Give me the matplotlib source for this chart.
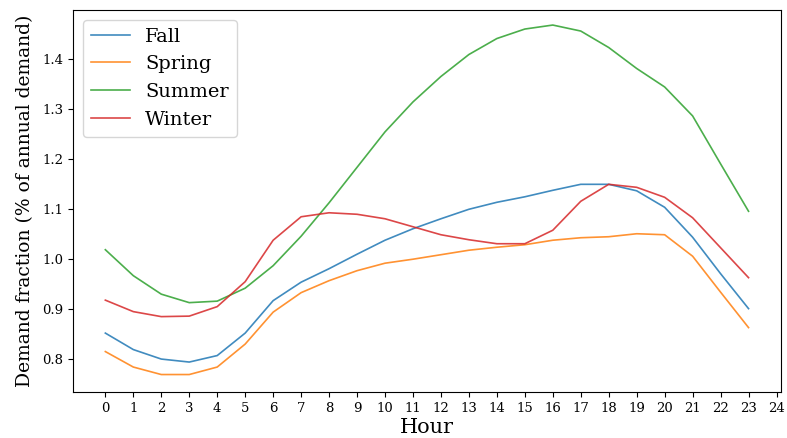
import numpy as np
import matplotlib
matplotlib.use('Agg')
import matplotlib.pyplot as plt

plt.rcParams['font.family'] = 'DejaVu Serif'

hours = list(range(24))
fall = [0.851, 0.818, 0.799, 0.793, 0.806, 0.851, 0.916, 0.953, 0.980, 1.009,
        1.037, 1.060, 1.080, 1.099, 1.113, 1.124, 1.137, 1.149, 1.149, 1.136,
        1.103, 1.043, 0.970, 0.900]
spring = [0.814, 0.783, 0.768, 0.768, 0.783, 0.829, 0.893, 0.932, 0.956, 0.976,
          0.991, 0.999, 1.008, 1.017, 1.023, 1.028, 1.037, 1.042, 1.044, 1.050,
          1.048, 1.005, 0.933, 0.862]
summer = [1.018, 0.966, 0.929, 0.912, 0.915, 0.941, 0.986, 1.045, 1.112, 1.183,
          1.254, 1.314, 1.365, 1.409, 1.441, 1.460, 1.468, 1.456, 1.423, 1.381,
          1.344, 1.286, 1.190, 1.095]
winter = [0.917, 0.894, 0.884, 0.885, 0.904, 0.954, 1.037, 1.084, 1.092, 1.089,
          1.080, 1.064, 1.048, 1.038, 1.030, 1.030, 1.057, 1.115, 1.149, 1.143,
          1.123, 1.082, 1.022, 0.962]
seasons = ['Fall', 'Spring', 'Summer', 'Winter']
colors = ['tab:blue', 'tab:orange', 'tab:green', 'tab:red']

fig, ax = plt.subplots(figsize=(7.87, 4.38), dpi=100)
fig.subplots_adjust(left=0.093, right=0.992, bottom=0.105, top=0.977)

for name, vals, c in zip(seasons, [fall, spring, summer, winter], colors):
    ax.plot(hours, vals, color=c, lw=1.2, alpha=0.85, label=name)

ax.set_xticks(range(25))
ax.set_ylim(0.733, 1.498)
ax.tick_params(labelsize=9.5)
ax.set_xlabel('Hour', fontsize=15, labelpad=2)
ax.set_ylabel('Demand fraction (% of annual demand)', fontsize=13.5, labelpad=6)
ax.legend(loc='upper left', fontsize=14)

plt.savefig('out.png', dpi=100)
